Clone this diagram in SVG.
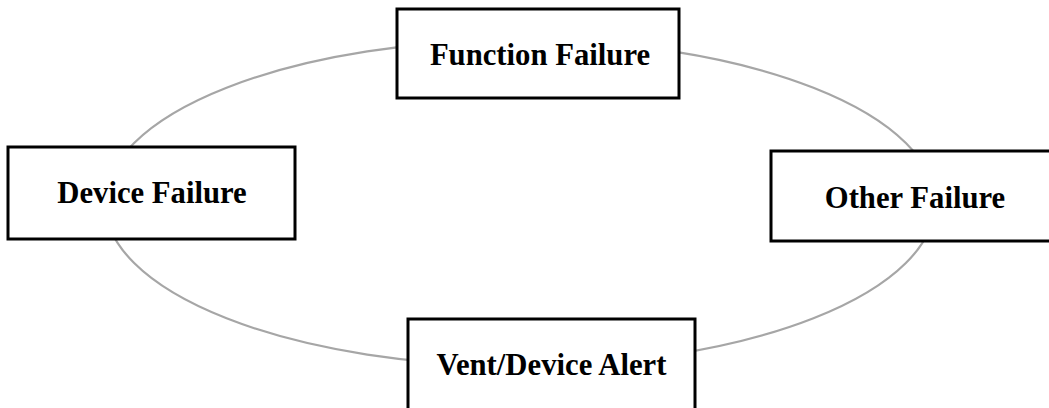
<svg xmlns="http://www.w3.org/2000/svg" width="1049" height="408" viewBox="0 0 1049 408">
  <style>
    .box { fill: #ffffff; stroke: #000000; stroke-width: 3; }
    .label { font-family: "Liberation Serif", "Times New Roman", serif; font-weight: bold; font-size: 30.7px; fill: #000000; text-anchor: middle; }
    .ring { fill: none; stroke: #a6a6a6; stroke-width: 2.2; }
  </style>
  <rect width="1049" height="408" fill="#ffffff"/>

  <!-- cycle ring linking the failure categories -->
  <g id="connectors">
    <ellipse class="ring" cx="520" cy="203" rx="415" ry="163"/>
  </g>

  <g id="function-failure">
    <rect class="box" x="397" y="9" width="282" height="89"/>
    <text class="label" x="540" y="65">Function Failure</text>
  </g>

  <g id="device-failure">
    <rect class="box" x="8" y="147" width="287" height="92"/>
    <text class="label" x="152" y="203">Device Failure</text>
  </g>

  <g id="other-failure">
    <rect class="box" x="771" y="151" width="290" height="90"/>
    <text class="label" x="915" y="208">Other Failure</text>
  </g>

  <g id="vent-device-alert">
    <rect class="box" x="408" y="319" width="287" height="92"/>
    <text class="label" x="551.5" y="375">Vent/Device Alert</text>
  </g>
</svg>
